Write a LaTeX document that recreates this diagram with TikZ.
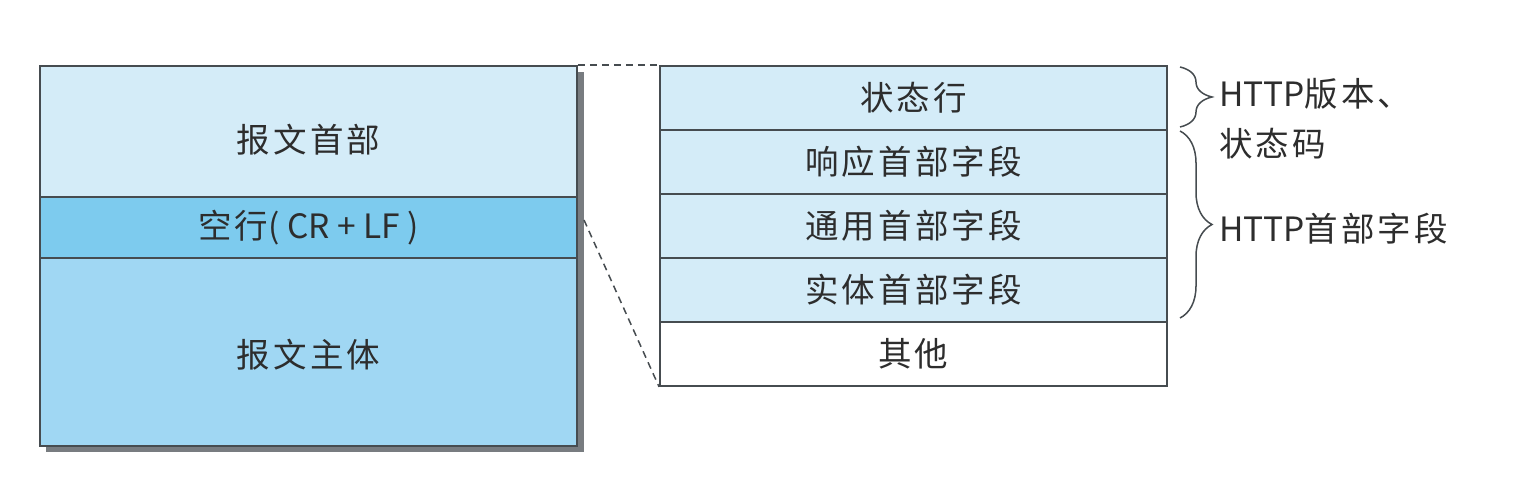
\documentclass[tikz,border=0pt]{standalone}
\usepackage{fontspec}
\setmainfont{Noto Sans CJK SC}[LetterSpace=9]
\newfontfamily\lat{Noto Sans CJK SC}
\usetikzlibrary{decorations.pathreplacing}
\definecolor{lightrow}{RGB}{212,236,248}
\definecolor{midrow}{RGB}{125,203,238}
\definecolor{bodyrow}{RGB}{160,215,243}
\definecolor{edge}{RGB}{70,76,80}
\definecolor{txt}{RGB}{45,45,45}
\definecolor{shadowc}{RGB}{120,124,128}
\tikzset{
  cell/.style={draw=edge, line width=1.8pt, inner sep=0pt, text=txt,
    font=\fontsize{33.5}{38}\selectfont},
  leftcell/.style={cell, minimum width=537pt},
  rightcell/.style={cell, minimum width=507pt, minimum height=64pt, fill=lightrow},
  dashline/.style={draw=edge, line width=1.5pt, dash pattern=on 7pt off 5pt},
  bracestyle/.style={draw=edge, line width=1.5pt, decorate,
    decoration={brace, amplitude=32pt}},
  lbl/.style={text=txt, font=\fontsize{33.5}{50}\selectfont, inner sep=0pt, align=left}
}
\begin{document}
\begin{tikzpicture}[x=1pt,y=-1pt]
\useasboundingbox (0,0) rectangle (1524,486);
\fill[white] (0,0) rectangle (1524,486);
% shadow
\fill[shadowc] (46,72) rectangle (584,452);
% left column
\node[leftcell, fill=lightrow, minimum height=131pt] (l1) at (308.5,131.5) {};
\node[leftcell, fill=midrow, minimum height=61pt] (l2) at (308.5,227.5) {空行{\lat( CR + LF )}};
\node[leftcell, fill=bodyrow, minimum height=188pt] (l3) at (308.5,352) {};
\node[text=txt, font=\fontsize{33.5}{38}\selectfont, inner sep=0pt] (t1) at (308.5,140) {报文首部};
\node[text=txt, font=\fontsize{33.5}{38}\selectfont, inner sep=0pt] (t3) at (308.5,355) {报文主体};
% right column
\node[rightcell] (r1) at (913.5,98) {状态行};
\node[rightcell] (r2) at (913.5,162) {响应首部字段};
\node[rightcell] (r3) at (913.5,226) {通用首部字段};
\node[rightcell] (r4) at (913.5,290) {实体首部字段};
\node[rightcell, fill=white] (r5) at (913.5,354) {其他};
% dashed connectors
\coordinate (ds) at (584,220);
\draw[dashline] (l1.north east) -- (r1.north west);
\draw[dashline] (ds) -- (r5.south west);
% braces
\coordinate (b1a) at (1180,67);
\coordinate (b1b) at (1180,127);
\coordinate (b2a) at (1180,131);
\coordinate (b2b) at (1180,318);
\draw[bracestyle] (b1a) -- (b1b);
\draw[bracestyle] (b2a) -- (b2b);
\node[lbl, anchor=north west] (n1) at (1219,78) {{\lat HTTP}版本、\\状态码};
\node[lbl, anchor=west] (n2) at (1219,229) {{\lat HTTP}首部字段};
\end{tikzpicture}
\end{document}
